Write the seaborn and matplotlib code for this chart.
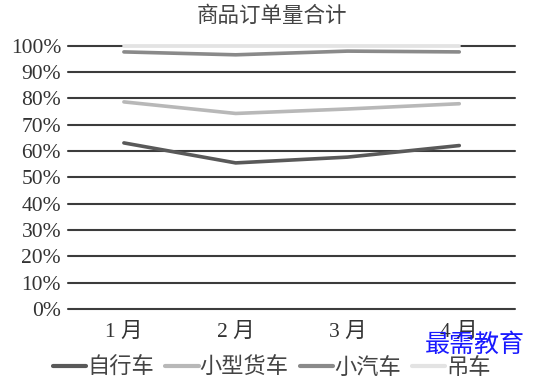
import matplotlib
matplotlib.use("Agg")
import matplotlib.pyplot as plt
import seaborn as sns
import pandas as pd
from matplotlib.ticker import PercentFormatter
from matplotlib.lines import Line2D

months = ["1月", "2月", "3月", "4月"]
month_labels = ["1 月", "2 月", "3 月", "4 月"]
bike = [0.631, 0.555, 0.577, 0.621]
van = [0.787, 0.743, 0.760, 0.780]
car = [0.977, 0.966, 0.980, 0.977]
crane = [1.0, 1.0, 1.0, 1.0]
series_names = ["自行车", "小型货车", "小汽车", "吊车"]
colors = ["#595959", "#b8b8b8", "#8a8a8a", "#e3e3e3"]

sns.set_theme(style="white")
plt.rcParams["font.family"] = ["Liberation Serif", "Noto Sans CJK SC", "DejaVu Sans"]

rows = []
for name, vals in zip(series_names, [bike, van, car, crane]):
    for i, v in enumerate(vals):
        rows.append({"month": i, "series": name, "value": v})
df = pd.DataFrame(rows)

fig = plt.figure(figsize=(5.44, 3.79), dpi=100)
ax = fig.add_axes([0.125, 0.185, 0.822, 0.694])

for y in [i / 10 for i in range(11)]:
    ax.axhline(y, color="#3c3c3c", lw=1.5, zorder=1, clip_on=False)

sns.lineplot(data=df, x="month", y="value", hue="series", hue_order=series_names,
             palette=colors, linewidth=2.6, ax=ax, legend=False, zorder=3)
for ln in ax.lines:
    ln.set_clip_on(False)

ax.set_xlim(-0.5, 3.5)
ax.set_ylim(0, 1.0)
ax.set_yticks([i / 10 for i in range(11)])
ax.yaxis.set_major_formatter(PercentFormatter(1.0, decimals=0))
ax.set_xticks(range(4))
ax.set_xticklabels(month_labels)
ax.tick_params(axis="both", length=0, labelsize=15.5, colors="#333333")
ax.tick_params(axis="y", pad=5)
ax.tick_params(axis="x", pad=10)
for s in ax.spines.values():
    s.set_visible(False)
ax.set_xlabel("")
ax.set_ylabel("")
ax.grid(False)

fig.text(0.5, 0.958, "商品订单量合计", ha="center", va="center", fontsize=15.5,
         color="#444444", family=["Noto Sans CJK SC"])

handles = [Line2D([0], [0], color=c, lw=3) for c in colors]
leg = fig.legend(handles, series_names, loc="center", bbox_to_anchor=(0.5, 0.03),
                 ncol=4, frameon=False, handlelength=1.5,
                 handletextpad=0.05, columnspacing=0.5,
                 prop={"family": ["Noto Sans CJK SC"], "size": 16})
for t in leg.get_texts():
    t.set_color("#444444")

fig.text(0.872, 0.09, "最需教育", ha="center", va="center", fontsize=18,
         color="#1a1aff", family=["Noto Sans CJK SC"])

fig.savefig("out.png", dpi=100)
